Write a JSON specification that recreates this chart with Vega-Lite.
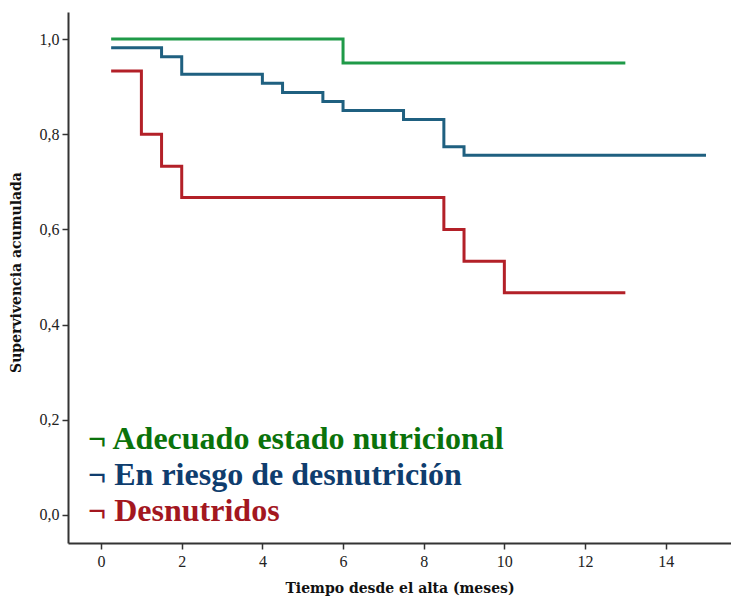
{
  "$schema": "https://vega.github.io/schema/vega-lite/v6.json",
  "width": 663,
  "height": 531,
  "autosize": "none",
  "padding": {"left": 68, "top": 12, "right": 0, "bottom": 61},
  "background": "white",
  "config": {"view": {"stroke": null}},
  "data": {"values": [
    {"grupo": "Adecuado estado nutricional", "t": 0.25, "s": 1.0},
    {"grupo": "Adecuado estado nutricional", "t": 6, "s": 0.95},
    {"grupo": "Adecuado estado nutricional", "t": 13, "s": 0.95},
    {"grupo": "En riesgo de desnutrición", "t": 0.25, "s": 0.982},
    {"grupo": "En riesgo de desnutrición", "t": 1.5, "s": 0.963},
    {"grupo": "En riesgo de desnutrición", "t": 2, "s": 0.926},
    {"grupo": "En riesgo de desnutrición", "t": 4, "s": 0.907},
    {"grupo": "En riesgo de desnutrición", "t": 4.5, "s": 0.888},
    {"grupo": "En riesgo de desnutrición", "t": 5.5, "s": 0.869},
    {"grupo": "En riesgo de desnutrición", "t": 6, "s": 0.85},
    {"grupo": "En riesgo de desnutrición", "t": 7.5, "s": 0.831},
    {"grupo": "En riesgo de desnutrición", "t": 8.5, "s": 0.774},
    {"grupo": "En riesgo de desnutrición", "t": 9, "s": 0.756},
    {"grupo": "En riesgo de desnutrición", "t": 15, "s": 0.756},
    {"grupo": "Desnutridos", "t": 0.25, "s": 0.933},
    {"grupo": "Desnutridos", "t": 1, "s": 0.8},
    {"grupo": "Desnutridos", "t": 1.5, "s": 0.733},
    {"grupo": "Desnutridos", "t": 2, "s": 0.667},
    {"grupo": "Desnutridos", "t": 8.5, "s": 0.6},
    {"grupo": "Desnutridos", "t": 9, "s": 0.533},
    {"grupo": "Desnutridos", "t": 10, "s": 0.467},
    {"grupo": "Desnutridos", "t": 13, "s": 0.467}
  ]},
  "mark": {"type": "line", "interpolate": "step-after", "strokeWidth": 3},
  "encoding": {
    "x": {
      "field": "t", "type": "quantitative",
      "scale": {"domain": [-0.82, 15.62], "nice": false, "zero": false},
      "axis": {
        "title": "Tiempo desde el alta (meses)",
        "values": [0, 2, 4, 6, 8, 10, 12, 14],
        "grid": false,
        "domainColor": "#333333", "domainWidth": 2,
        "tickColor": "#333333", "tickWidth": 1.5, "tickSize": 6,
        "labelFont": "Liberation Sans Narrow", "labelFontSize": 16, "labelColor": "#222222",
        "labelPadding": 4,
        "titleFont": "DejaVu Serif", "titleFontWeight": "bold", "titleFontSize": 14, "titleColor": "#111111",
        "titlePadding": 12
      }
    },
    "y": {
      "field": "s", "type": "quantitative",
      "scale": {"domain": [-0.059, 1.057], "nice": false, "zero": false},
      "axis": {
        "title": "Supervivencia acumulada",
        "values": [0, 0.2, 0.4, 0.6, 0.8, 1.0],
        "labelExpr": "replace(format(datum.value, '.1f'), '.', ',')",
        "grid": false,
        "domainColor": "#333333", "domainWidth": 2,
        "tickColor": "#333333", "tickWidth": 1.5, "tickSize": 6,
        "labelFont": "Liberation Sans Narrow", "labelFontSize": 16, "labelColor": "#222222",
        "labelPadding": 3,
        "titleFont": "DejaVu Serif", "titleFontWeight": "bold", "titleFontSize": 14, "titleColor": "#111111",
        "titleX": -45,
        "titleY": 260
      }
    },
    "color": {
      "field": "grupo", "type": "nominal",
      "scale": {
        "domain": ["Adecuado estado nutricional", "En riesgo de desnutrición", "Desnutridos"],
        "range": ["#1f9a48", "#1f6080", "#b32028"]
      },
      "legend": {
        "orient": "none",
        "legendX": -12,
        "legendY": 411,
        "title": null,
        "padding": 0,
        "symbolSize": 0,
        "symbolStrokeWidth": 0,
        "symbolOpacity": 0,
        "labelOffset": 0,
        "labelFont": "Liberation Serif",
        "labelFontWeight": "bold",
        "labelFontSize": 32,
        "labelLimit": 0,
        "rowPadding": 4,
        "labelExpr": "'¬ ' + datum.label",
        "encode": {
          "labels": {
            "update": {
              "fill": {"signal": "datum.value == 'Adecuado estado nutricional' ? '#0b720b' : datum.value == 'Desnutridos' ? '#a3171f' : '#0f3d6e'"}
            }
          }
        }
      }
    }
  }
}
